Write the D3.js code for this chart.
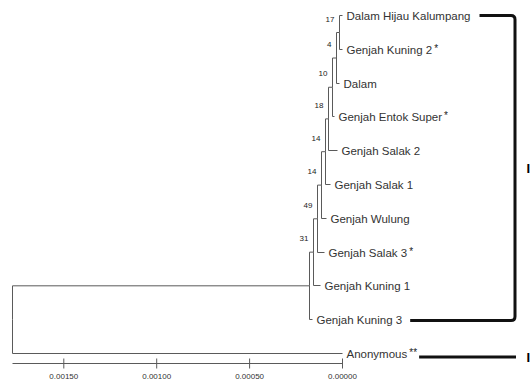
<!DOCTYPE html>
<html>
<head>
<meta charset="utf-8">
<script src="https://cdn.jsdelivr.net/npm/d3@7"></script>
<style>
  body { margin: 0; background: #fff; }
  svg { display: block; font-family: "Liberation Sans", Arial, sans-serif; }
</style>
</head>
<body>
<div id="chart"></div>
<script>
const svgWidth = 530;
const svgHeight = 386;

// taxa, top to bottom
const taxa = ["Dalam Hijau Kalumpang", "Genjah Kuning 2", "Dalam", "Genjah Entok Super",
  "Genjah Salak 2", "Genjah Salak 1", "Genjah Wulung", "Genjah Salak 3",
  "Genjah Kuning 1", "Genjah Kuning 3", "Anonymous"];
const taxaMarks = ["", "*", "", "*", "", "", "", "*", "", "", "**"];
// distance of each tip on the axis
const tipHeights = [0, 0, 0.0000161, 0.000043, 0.0000269, 0.0000645, 0.000086,
  0.0000968, 0.000118, 0.000161, 0];
// internal nodes, innermost first, root last
const nodeHeights = [0.0000161, 0.0000323, 0.0000538, 0.0000753, 0.0000914,
  0.000113, 0.000134, 0.000156, 0.000177, 0.001774];
const bootstrap = [17, 4, 10, 18, 14, 14, 49, 31, null, null];
const axisTicks = [0.0015, 0.001, 0.0005, 0];
const groupLabels = ["I", "II"];

const svg = d3.select("#chart")
  .append("svg")
  .attr("width", svgWidth)
  .attr("height", svgHeight);

function tipNode(i) {
  return {name: taxa[i], mark: taxaMarks[i], height: tipHeights[i]};
}

// ladder tree: each node joins the previous clade with the next taxon
let tree = {children: [tipNode(0), tipNode(1)], height: nodeHeights[0], support: bootstrap[0]};
for (let i = 1; i < nodeHeights.length; i++) {
  tree = {children: [tree, tipNode(i + 1)], height: nodeHeights[i], support: bootstrap[i]};
}
const root = d3.hierarchy(tree);

const x = d3.scaleLinear().domain([0.0015, 0]).range([63.3, 342]);
const y = d3.scalePoint().domain(taxa).range([15, 353]);

const snap = v => Math.round(v) + 0.5;
root.eachAfter(d => {
  d.px = snap(x(d.data.height));
  if (d.children) {
    d.py = (d.children[0].py + d.children[d.children.length - 1].py) / 2;
  } else {
    d.py = snap(y(d.data.name));
  }
});

const lineColor = "#5a5a5a";

// branches
svg.append("g")
  .selectAll("path")
  .data(root.links())
  .enter()
  .append("path")
  .attr("d", l => `M${l.source.px},${l.source.py}V${l.target.py}H${l.target.px}`)
  .attr("fill", "none")
  .attr("stroke", lineColor)
  .attr("stroke-width", 1);

// bootstrap values
svg.append("g")
  .selectAll("text")
  .data(root.descendants().filter(d => d.children && d.data.support != null))
  .enter()
  .append("text")
  .attr("x", d => d.px - 5)
  .attr("y", d => d.py - 11)
  .attr("text-anchor", "end")
  .attr("font-size", 8)
  .attr("fill", "#222")
  .text(d => d.data.support);

// tip labels
const tipLabels = svg.append("g")
  .selectAll("text")
  .data(root.leaves())
  .enter()
  .append("text")
  .attr("x", d => d.px + 4)
  .attr("y", d => d.py + 4)
  .attr("font-size", 11.5)
  .attr("fill", "#333");
tipLabels.append("tspan").text(d => d.data.name);
tipLabels.filter(d => d.data.mark)
  .append("tspan")
  .attr("dx", 2)
  .attr("dy", -2)
  .attr("font-size", 10)
  .attr("fill", "#222")
  .text(d => d.data.mark);

// scale axis
const axisY = 363.5;
svg.append("line")
  .attr("x1", snap(x(nodeHeights[nodeHeights.length - 1])))
  .attr("x2", snap(x(0)))
  .attr("y1", axisY)
  .attr("y2", axisY)
  .attr("stroke", lineColor);

const axis = svg.append("g")
  .attr("transform", `translate(0, ${axisY})`)
  .call(d3.axisBottom(x)
    .tickValues(axisTicks)
    .tickFormat(d3.format(".5f"))
    .tickSize(5)
    .tickPadding(5));
axis.select(".domain").remove();
axis.selectAll(".tick line").attr("y1", -5).attr("stroke", lineColor);
axis.selectAll(".tick text")
  .attr("font-size", 8)
  .attr("font-family", "Liberation Sans, Arial, sans-serif")
  .attr("fill", "#333");

// group brackets
const leafByName = {};
root.leaves().forEach(d => { leafByName[d.data.name] = d; });
const labelEnd = name => {
  const node = tipLabels.filter(d => d.data.name === name).node();
  const bb = node.getBBox();
  return bb.x + bb.width;
};
const bx = 515;
const yTop = leafByName[taxa[0]].py;
const yBot = leafByName[taxa[9]].py + 1;
const startTop = labelEnd(taxa[0]) + 9;
const startBot = labelEnd(taxa[9]) + 8;
svg.append("path")
  .attr("d", `M${startTop},${yTop}H${bx - 4}Q${bx},${yTop} ${bx},${yTop + 4}` +
    `V${yBot - 4}Q${bx},${yBot} ${bx - 4},${yBot}H${startBot}`)
  .attr("fill", "none")
  .attr("stroke", "#111")
  .attr("stroke-width", 3);

const yAnon = leafByName[taxa[10]].py + 3.5;
svg.append("line")
  .attr("x1", labelEnd(taxa[10]) + 2)
  .attr("x2", bx + 1)
  .attr("y1", yAnon)
  .attr("y2", yAnon)
  .attr("stroke", "#111")
  .attr("stroke-width", 3);

// group numerals sit at the right edge, partly cut as in the source
svg.append("text")
  .attr("x", 526.5)
  .attr("y", (yTop + yBot) / 2 + 5)
  .attr("font-size", 13)
  .attr("font-weight", "bold")
  .text(groupLabels[0]);
svg.append("text")
  .attr("x", 526.5)
  .attr("y", yAnon + 5)
  .attr("font-size", 13)
  .attr("font-weight", "bold")
  .text(groupLabels[1]);
</script>
</body>
</html>
